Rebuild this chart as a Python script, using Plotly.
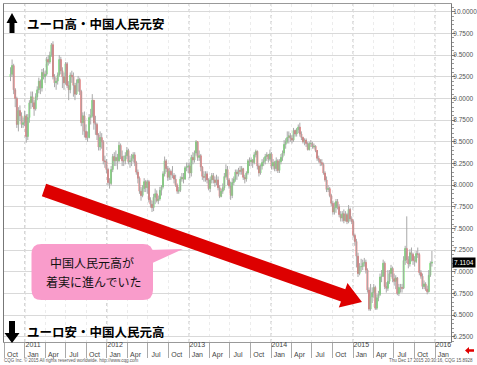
import numpy as np
import pandas as pd
import plotly.graph_objects as go

# ---------------- data (weekly EUR/CNY) ----------------
first_open = 9.25
close_2010 = [9.28, 9.38, 9.10, 9.00, 8.70, 8.86, 8.80, 8.70, 8.72, 8.80]
high_2010 = [9.36, 9.45, 9.40, 9.12, 9.02, 8.90, 8.92, 8.84, 8.78, 8.86]
low_2010 = [9.20, 9.25, 9.05, 8.90, 8.66, 8.62, 8.74, 8.66, 8.66, 8.68]

close_2011 = [8.56, 8.78, 8.95, 9.02, 8.95, 8.88, 9.02, 9.10, 9.20, 9.12, 9.30, 9.25,
              9.28, 9.45, 9.42, 9.50, 9.62, 9.25, 9.18, 9.20, 9.27, 9.45, 9.32, 9.25, 9.18,
              9.40, 9.15, 9.10, 9.27, 9.25, 9.15, 9.05, 9.18, 9.22, 9.08, 8.72, 8.80, 8.62,
              8.55, 8.55, 8.78, 8.80, 8.98, 8.72, 8.70, 8.58, 8.44, 8.55, 8.50, 8.28, 8.27, 8.18]
high_2011 = [8.82, 8.82, 8.98, 9.08, 9.08, 8.98, 9.06, 9.14, 9.24, 9.22, 9.34, 9.35,
             9.32, 9.48, 9.50, 9.54, 9.64, 9.66, 9.28, 9.24, 9.30, 9.50, 9.48, 9.36, 9.30,
             9.42, 9.42, 9.20, 9.30, 9.32, 9.30, 9.18, 9.22, 9.26, 9.24, 9.10, 8.84, 8.85,
             8.70, 8.62, 8.82, 8.88, 9.05, 8.98, 8.80, 8.72, 8.60, 8.62, 8.60, 8.52, 8.34, 8.30]
low_2011 = [8.49, 8.52, 8.72, 8.88, 8.90, 8.80, 8.86, 8.98, 9.06, 9.05, 9.08, 9.22,
            9.18, 9.26, 9.38, 9.40, 9.48, 9.22, 9.13, 9.10, 9.16, 9.25, 9.28, 9.12, 9.10,
            9.16, 9.12, 8.98, 9.06, 9.18, 9.02, 8.98, 9.04, 9.08, 9.04, 8.68, 8.58, 8.55,
            8.52, 8.50, 8.54, 8.70, 8.78, 8.64, 8.58, 8.52, 8.40, 8.40, 8.42, 8.24, 8.20, 8.14]

close_2012 = [8.03, 8.02, 8.18, 8.33, 8.28, 8.32, 8.28, 8.46, 8.33, 8.28, 8.28, 8.34, 8.40,
              8.27, 8.28, 8.31, 8.35, 8.26, 8.15, 8.08, 7.93, 7.88, 7.96, 8.04, 7.97, 8.04,
              7.83, 7.78, 7.74, 7.86, 7.90, 7.82, 7.84, 7.94, 7.98, 8.13, 8.28, 8.19, 8.09,
              8.16, 8.12, 8.11, 8.07, 8.00, 7.93, 7.94, 8.07, 8.09, 8.07, 8.20, 8.21, 8.22]
high_2012 = [8.20, 8.08, 8.22, 8.36, 8.38, 8.40, 8.36, 8.50, 8.48, 8.40, 8.34, 8.38, 8.44,
             8.42, 8.34, 8.36, 8.38, 8.38, 8.28, 8.18, 8.10, 7.98, 8.00, 8.08, 8.06, 8.06,
             8.06, 7.86, 7.82, 7.90, 7.96, 7.94, 7.88, 7.98, 8.00, 8.16, 8.33, 8.30, 8.22,
             8.20, 8.18, 8.22, 8.14, 8.12, 8.02, 7.98, 8.10, 8.14, 8.14, 8.22, 8.26, 8.26]
low_2012 = [8.00, 7.96, 8.00, 8.15, 8.22, 8.22, 8.18, 8.26, 8.30, 8.22, 8.22, 8.24, 8.30,
            8.24, 8.20, 8.22, 8.26, 8.22, 8.12, 8.02, 7.90, 7.82, 7.86, 7.92, 7.92, 7.90,
            7.80, 7.74, 7.69, 7.70, 7.78, 7.80, 7.78, 7.82, 7.88, 7.96, 8.10, 8.15, 8.05,
            8.06, 8.06, 8.08, 8.02, 7.98, 7.90, 7.90, 7.92, 8.04, 8.02, 8.06, 8.16, 8.14]

close_2013 = [8.14, 8.32, 8.29, 8.37, 8.50, 8.32, 8.34, 8.21, 8.10, 8.09, 8.13, 8.06, 7.96,
              8.06, 8.11, 8.06, 8.03, 8.06, 7.97, 7.87, 7.93, 7.97, 8.10, 8.18, 8.06, 7.99,
              7.88, 8.03, 8.07, 8.15, 8.13, 8.17, 8.16, 8.19, 8.09, 8.07, 8.14, 8.28, 8.27,
              8.29, 8.26, 8.35, 8.39, 8.22, 8.14, 8.22, 8.26, 8.28, 8.33, 8.35, 8.30, 8.36]
high_2013 = [8.26, 8.35, 8.38, 8.40, 8.52, 8.50, 8.40, 8.36, 8.22, 8.16, 8.16, 8.16, 8.08,
             8.10, 8.14, 8.14, 8.10, 8.12, 8.10, 8.00, 7.96, 8.02, 8.14, 8.24, 8.22, 8.08,
             8.04, 8.08, 8.10, 8.18, 8.18, 8.20, 8.22, 8.22, 8.20, 8.12, 8.16, 8.30, 8.32,
             8.32, 8.30, 8.38, 8.41, 8.40, 8.24, 8.24, 8.30, 8.32, 8.36, 8.38, 8.36, 8.41]
low_2013 = [8.08, 8.10, 8.24, 8.26, 8.34, 8.28, 8.28, 8.16, 8.06, 8.04, 8.04, 8.02, 7.94,
            7.92, 8.02, 8.02, 7.98, 8.00, 7.94, 7.85, 7.86, 7.90, 7.94, 8.08, 8.00, 7.96,
            7.83, 7.85, 8.00, 8.04, 8.06, 8.10, 8.12, 8.12, 8.06, 8.02, 8.04, 8.12, 8.22,
            8.22, 8.20, 8.24, 8.32, 8.18, 8.10, 8.12, 8.18, 8.22, 8.24, 8.28, 8.26, 8.28]

close_2014 = [8.22, 8.26, 8.19, 8.28, 8.17, 8.27, 8.32, 8.37, 8.47, 8.50, 8.55, 8.57, 8.54,
              8.52, 8.63, 8.59, 8.64, 8.67, 8.59, 8.55, 8.50, 8.52, 8.48, 8.41, 8.48, 8.48,
              8.44, 8.45, 8.40, 8.31, 8.29, 8.26, 8.24, 8.14, 8.06, 7.95, 7.96, 7.88, 7.79,
              7.69, 7.74, 7.81, 7.75, 7.66, 7.62, 7.67, 7.59, 7.66, 7.58, 7.72, 7.61, 7.58]
high_2014 = [8.38, 8.30, 8.28, 8.32, 8.30, 8.30, 8.36, 8.40, 8.52, 8.54, 8.62, 8.62, 8.60,
             8.58, 8.66, 8.64, 8.66, 8.70, 8.72, 8.62, 8.56, 8.54, 8.54, 8.50, 8.50, 8.52,
             8.50, 8.48, 8.46, 8.40, 8.34, 8.30, 8.30, 8.26, 8.16, 8.10, 8.00, 7.98, 7.90,
             7.82, 7.80, 7.84, 7.84, 7.78, 7.70, 7.70, 7.72, 7.70, 7.68, 7.77, 7.74, 7.64]
low_2014 = [8.18, 8.18, 8.16, 8.16, 8.14, 8.14, 8.24, 8.28, 8.34, 8.42, 8.48, 8.48, 8.50,
            8.48, 8.50, 8.56, 8.56, 8.60, 8.56, 8.52, 8.48, 8.46, 8.44, 8.40, 8.40, 8.44,
            8.42, 8.42, 8.38, 8.28, 8.26, 8.22, 8.22, 8.12, 8.04, 7.92, 7.92, 7.86, 7.76,
            7.66, 7.66, 7.68, 7.72, 7.63, 7.58, 7.58, 7.56, 7.58, 7.55, 7.56, 7.58, 7.55]

close_2015 = [7.42, 7.35, 7.18, 6.98, 7.06, 7.06, 7.10, 7.11, 7.02, 6.79, 6.57, 6.71, 6.76,
              6.82, 6.58, 6.70, 6.74, 6.94, 6.95, 7.10, 6.83, 6.81, 6.89, 6.98, 7.04, 6.92,
              6.89, 6.93, 6.75, 6.82, 6.82, 6.81, 7.13, 7.27, 7.14, 7.09, 7.22, 7.20, 7.13,
              7.12, 7.21, 7.20, 6.99, 6.95, 6.83, 6.86, 6.80, 6.77, 6.96, 7.10, 7.1104]
high_2015 = [7.60, 7.44, 7.38, 7.22, 7.10, 7.15, 7.14, 7.16, 7.14, 7.04, 6.82, 6.86, 6.82,
             6.86, 6.84, 6.74, 6.78, 6.98, 7.02, 7.14, 7.12, 6.88, 7.02, 7.02, 7.08, 7.06,
             6.98, 6.96, 6.94, 6.86, 6.86, 6.86, 7.18, 7.30, 7.64, 7.18, 7.26, 7.28, 7.22,
             7.18, 7.24, 7.28, 7.22, 7.02, 6.98, 6.90, 6.88, 6.84, 7.02, 7.12, 7.24]
low_2015 = [7.40, 7.30, 7.05, 6.94, 6.96, 7.00, 7.02, 7.06, 6.98, 6.76, 6.55, 6.55, 6.64,
            6.70, 6.56, 6.56, 6.66, 6.72, 6.88, 6.94, 6.80, 6.76, 6.78, 6.86, 6.94, 6.88,
            6.84, 6.80, 6.73, 6.72, 6.76, 6.76, 6.80, 7.08, 7.10, 7.04, 7.06, 7.12, 7.08,
            7.06, 7.10, 7.16, 6.96, 6.92, 6.80, 6.80, 6.78, 6.74, 6.76, 6.94, 7.06]

y_ticks = [6.25, 6.5, 6.75, 7.0, 7.25, 7.5, 7.75, 8.0, 8.25, 8.5, 8.75, 9.0, 9.25, 9.5, 9.75, 10.0]
month_names = {1: "Jan", 4: "Apr", 7: "Jul", 10: "Oct"}

title_up = "ユーロ高・中国人民元安"
title_down = "ユーロ安・中国人民元高"
callout_lines = ["中国人民元高が", "着実に進んでいた"]
footer_left = "CQG Inc. © 2015 All rights reserved worldwide. http://www.cqg.com"
footer_right = "Thu Dec 17 2015 20:30:16, CQG 15.8928"

# ---------------- assemble ----------------
close = close_2010 + close_2011 + close_2012 + close_2013 + close_2014 + close_2015
high = high_2010 + high_2011 + high_2012 + high_2013 + high_2014 + high_2015
low = low_2010 + low_2011 + low_2012 + low_2013 + low_2014 + low_2015
dates = pd.date_range("2010-10-29", periods=len(close), freq="W-FRI")
opn = [first_open] + close[:-1]
high = [max(h, o, c) for h, o, c in zip(high, opn, close)]
low = [min(l, o, c) for l, o, c in zip(low, opn, close)]
body_hi = [max(o, c) for o, c in zip(opn, close)]
body_lo = [min(o, c) for o, c in zip(opn, close)]

W, H = 477, 365
ML, MR, MT, MB = 4, 26, 4, 23
PW, PH = W - ML - MR, H - MT - MB


def px(x):
    return (x - ML) / PW


def py(y):
    return (H - MB - y) / PH


def poly(points):
    return "M " + " L ".join(f"{px(x):.5f},{py(y):.5f}" for x, y in points) + " Z"


def rrect(x0, y0, x1, y1, r):
    P = lambda x, y: f"{px(x):.5f},{py(y):.5f}"
    return (f"M {P(x0 + r, y0)} L {P(x1 - r, y0)} Q {P(x1, y0)} {P(x1, y0 + r)} "
            f"L {P(x1, y1 - r)} Q {P(x1, y1)} {P(x1 - r, y1)} L {P(x0 + r, y1)} "
            f"Q {P(x0, y1)} {P(x0, y1 - r)} L {P(x0, y0 + r)} Q {P(x0, y0)} {P(x0 + r, y0)} Z")


def arrow(tx, ty, hx, hy, hw, hh, hl):
    t = np.array([tx, ty], float)
    h = np.array([hx, hy], float)
    u = (h - t) / np.linalg.norm(h - t)
    n = np.array([-u[1], u[0]])
    b = h - hl * u
    pts = [t + hw * n, b + hw * n, b + hh * n, h, b - hh * n, b - hw * n, t - hw * n]
    return poly([tuple(p) for p in pts])


fig = go.Figure()
fig.add_trace(go.Ohlc(
    x=dates, open=opn, high=high, low=low, close=close, tickwidth=0,
    increasing=dict(line=dict(color="#a9a9a9", width=1)),
    decreasing=dict(line=dict(color="#a9a9a9", width=1)),
    hoverinfo="skip"))
fig.add_trace(go.Candlestick(
    x=dates, open=opn, high=body_hi, low=body_lo, close=close, whiskerwidth=0,
    increasing=dict(line=dict(color="#5fe85a", width=1), fillcolor="#5fe85a"),
    decreasing=dict(line=dict(color="#f26262", width=1), fillcolor="#f26262")))

qs = pd.date_range("2010-10-01", "2016-01-01", freq="QS-JAN")
label_pos = qs + pd.Timedelta(days=1)
ticktext = [f"{d.year}<br>Jan" if d.month == 1 else f"\u00a0<br>{month_names[d.month]}" for d in qs]

shapes = []
for yr in range(2011, 2017):
    shapes.append(dict(type="line", xref="x", yref="paper", x0=f"{yr}-01-01", x1=f"{yr}-01-01",
                       y0=0, y1=1, layer="below", line=dict(color="#bdbdbd", width=1, dash="dot")))

# red trend arrow
shapes.append(dict(type="path", xref="paper", yref="paper", path=arrow(44, 190, 362, 302, 6.5, 13, 20),
                   fillcolor="#dd0000", line=dict(width=0), layer="above"))
# callout
shapes.append(dict(type="path", xref="paper", yref="paper",
                   path=poly([(148, 250), (183, 249), (148, 265)]),
                   fillcolor="#f99ccb", line=dict(width=0), layer="above"))
shapes.append(dict(type="path", xref="paper", yref="paper", path=rrect(31.5, 244, 153, 300, 10),
                   fillcolor="#f99ccb", line=dict(width=0), layer="above"))
# up / down black arrows
shapes.append(dict(type="path", xref="paper", yref="paper",
                   path=poly([(12, 13), (17.5, 23), (14.5, 23), (14.5, 33), (9.5, 33), (9.5, 23), (6.5, 23)]),
                   fillcolor="black", line=dict(width=0), layer="above"))
shapes.append(dict(type="path", xref="paper", yref="paper",
                   path=poly([(9, 321), (15, 321), (15, 333), (19.5, 333), (12, 343), (4.5, 333), (9, 333)]),
                   fillcolor="black", line=dict(width=0), layer="above"))
# small red icon bottom right
shapes.append(dict(type="path", xref="paper", yref="paper",
                   path=poly([(465, 350.5), (469, 347), (469, 349.3), (474, 349.3), (474, 351.7), (469, 351.7), (469, 354)]),
                   fillcolor="#e00000", line=dict(width=0), layer="above"))

cjk = "Noto Sans CJK JP"
annotations = [
    dict(xref="paper", yref="paper", x=px(25), y=py(24), xanchor="left", yanchor="middle",
         text=f"<b>{title_up}</b>", showarrow=False, font=dict(family=cjk, size=12.5, color="black")),
    dict(xref="paper", yref="paper", x=px(25), y=py(331), xanchor="left", yanchor="middle",
         text=f"<b>{title_down}</b>", showarrow=False, font=dict(family=cjk, size=12.5, color="black")),
    dict(xref="paper", yref="paper", x=px(92), y=py(262), xanchor="center", yanchor="middle",
         text=callout_lines[0], showarrow=False, font=dict(family=cjk, size=12, color="#111")),
    dict(xref="paper", yref="paper", x=px(93), y=py(281), xanchor="center", yanchor="middle",
         text=callout_lines[1], showarrow=False, font=dict(family=cjk, size=12, color="#111")),
    dict(xref="paper", yref="paper", x=px(2), y=py(360), xanchor="left", yanchor="middle",
         text=footer_left, showarrow=False, font=dict(family="Liberation Sans", size=4.5, color="#555")),
    dict(xref="paper", yref="paper", x=px(475), y=py(360), xanchor="right", yanchor="middle",
         text=footer_right, showarrow=False, font=dict(family="Liberation Sans", size=4.5, color="#555")),
    dict(xref="paper", yref="y", x=1, xshift=1, y=close[-1], xanchor="left", yanchor="middle",
         text=f"{close[-1]:.4f}", showarrow=False, bgcolor="black", borderpad=1,
         font=dict(family="Liberation Sans", size=6.5, color="white")),
]

fig.update_layout(
    width=W, height=H, margin=dict(l=ML, r=MR, t=MT, b=MB, autoexpand=False),
    paper_bgcolor="white", plot_bgcolor="white", showlegend=False,
    xaxis=dict(type="date", range=["2010-09-30", "2016-03-12"], rangeslider=dict(visible=False),
               automargin=False,
               tickmode="array", tickvals=label_pos, ticktext=ticktext, tickangle=0,
               ticks="", ticklabelshift=8, ticklabelstandoff=-4,
               tickfont=dict(family="Liberation Sans", size=7, color="#444"),
               showgrid=True, gridcolor="#ececec", griddash="dot",
               minor=dict(tickmode="array", tickvals=qs, ticks="outside", ticklen=15,
                          tickcolor="#aaaaaa", tickwidth=1, showgrid=False),
               showline=True, linecolor="#999999", mirror=True, zeroline=False),
    yaxis=dict(side="right", range=[6.19, 10.09], tickmode="array", tickvals=y_ticks,
               automargin=False,
               tickformat=".4f", ticks="outside", ticklen=3, tickcolor="#777",
               ticklabelstandoff=-3,
               tickfont=dict(family="Liberation Sans", size=6.5, color="#555"),
               showgrid=True, gridcolor="#d9d9d9", gridwidth=1,
               showline=True, linecolor="#777777", mirror=True, zeroline=False,
               minor=dict(dtick=0.05, tick0=6.25, ticks="outside", ticklen=2, tickcolor="#999", showgrid=False)),
    shapes=shapes, annotations=annotations,
)

fig.write_html("out.html", config={"displayModeBar": False},
               post_script="document.body.style.margin='0px';document.body.style.padding='0px';")
